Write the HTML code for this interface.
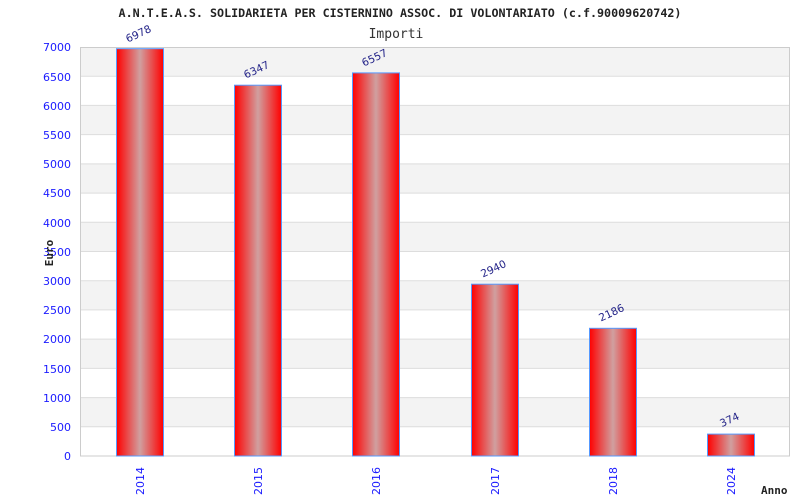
<!DOCTYPE html>
<html><head><meta charset="utf-8"><style>body{margin:0;background:#fff}svg{display:block}</style></head><body>
<svg width="800" height="500" xmlns="http://www.w3.org/2000/svg" font-family="DejaVu Sans Mono, Liberation Mono, monospace">
<defs><linearGradient id="g" x1="0" x2="1" y1="0" y2="0">
<stop offset="0" stop-color="#ff0000"/><stop offset="0.5" stop-color="#d0a0a0"/><stop offset="1" stop-color="#ff0000"/></linearGradient></defs>
<text x="400" y="17" text-anchor="middle" font-size="11.7" font-weight="bold" fill="#222">A.N.T.E.A.S. SOLIDARIETA PER CISTERNINO ASSOC. DI VOLONTARIATO (c.f.90009620742)</text>
<text x="396" y="38" text-anchor="middle" font-size="13" fill="#333">Importi</text>
<g id="bands">
<rect x="80" y="47" width="710" height="29.2" fill="#f3f3f3"/>
<rect x="80" y="105.4" width="710" height="29.2" fill="#f3f3f3"/>
<rect x="80" y="163.9" width="710" height="29.2" fill="#f3f3f3"/>
<rect x="80" y="222.3" width="710" height="29.2" fill="#f3f3f3"/>
<rect x="80" y="280.7" width="710" height="29.2" fill="#f3f3f3"/>
<rect x="80" y="339.1" width="710" height="29.2" fill="#f3f3f3"/>
<rect x="80" y="397.6" width="710" height="29.2" fill="#f3f3f3"/>
</g>
<g stroke="#ddd" stroke-width="1">
<line x1="80" x2="790" y1="76.2" y2="76.2"/><line x1="80" x2="790" y1="105.4" y2="105.4"/><line x1="80" x2="790" y1="134.6" y2="134.6"/><line x1="80" x2="790" y1="163.9" y2="163.9"/><line x1="80" x2="790" y1="193.1" y2="193.1"/><line x1="80" x2="790" y1="222.3" y2="222.3"/><line x1="80" x2="790" y1="251.5" y2="251.5"/><line x1="80" x2="790" y1="280.7" y2="280.7"/><line x1="80" x2="790" y1="309.9" y2="309.9"/><line x1="80" x2="790" y1="339.1" y2="339.1"/><line x1="80" x2="790" y1="368.4" y2="368.4"/><line x1="80" x2="790" y1="397.6" y2="397.6"/><line x1="80" x2="790" y1="426.8" y2="426.8"/>
</g>
<rect x="80.5" y="47.5" width="709" height="408.5" fill="none" stroke="#ccc"/>
<g font-family="DejaVu Sans, Liberation Sans, sans-serif" font-size="11" fill="#1a1aff" text-anchor="end">
<text x="71" y="460">0</text><text x="71" y="431">500</text><text x="71" y="402">1000</text><text x="71" y="373">1500</text><text x="71" y="343">2000</text><text x="71" y="314">2500</text><text x="71" y="285">3000</text><text x="71" y="256">3500</text><text x="71" y="227">4000</text><text x="71" y="197">4500</text><text x="71" y="168">5000</text><text x="71" y="139">5500</text><text x="71" y="110">6000</text><text x="71" y="81">6500</text><text x="71" y="51">7000</text>
</g>
<g fill="url(#g)" stroke="#5599ff" stroke-width="1">
<rect x="116.5" y="48.7" width="47" height="407.3"/>
<rect x="234.5" y="85.2" width="47" height="370.8"/>
<rect x="352.5" y="72.9" width="47" height="383.1"/>
<rect x="471.5" y="284.2" width="47" height="171.8"/>
<rect x="589.5" y="328.3" width="47" height="127.7"/>
<rect x="707.5" y="434.1" width="47" height="21.9"/>
</g>
<g font-family="DejaVu Sans, Liberation Sans, sans-serif" font-size="10.5" fill="#222288" text-anchor="middle">
<text transform="translate(140,37) rotate(-25)">6978</text>
<text transform="translate(258,73) rotate(-25)">6347</text>
<text transform="translate(376,61) rotate(-25)">6557</text>
<text transform="translate(495,272) rotate(-25)">2940</text>
<text transform="translate(613,316) rotate(-25)">2186</text>
<text transform="translate(731,423) rotate(-25)">374</text>
</g>
<g font-family="DejaVu Sans, Liberation Sans, sans-serif" font-size="11" fill="#1a1aff" text-anchor="middle">
<text transform="translate(144,481) rotate(-90)">2014</text>
<text transform="translate(262,481) rotate(-90)">2015</text>
<text transform="translate(380,481) rotate(-90)">2016</text>
<text transform="translate(499,481) rotate(-90)">2017</text>
<text transform="translate(617,481) rotate(-90)">2018</text>
<text transform="translate(735,481) rotate(-90)">2024</text>
</g>
<text x="761" y="494" font-size="11" font-weight="bold" fill="#222">Anno</text>
<text transform="translate(53,253) rotate(-90)" text-anchor="middle" font-size="11" font-weight="bold" fill="#222">Euro</text>
</svg>
</body></html>
